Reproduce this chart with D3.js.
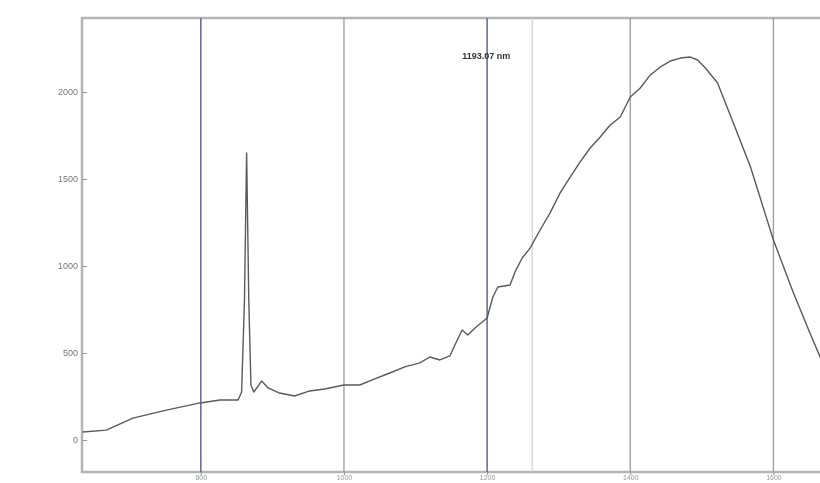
<!DOCTYPE html>
<html>
<head>
<meta charset="utf-8">
<script src="https://cdn.jsdelivr.net/npm/d3@7"></script>
<style>
  body { margin: 0; background: #fff; }
  svg { display: block; }
</style>
</head>
<body>
<svg id="chart" width="820" height="483"></svg>
<script>
// spectrum (wavelength nm, counts)
const wavelength = [635, 668, 705, 752, 799, 827, 852, 857, 861, 864, 867, 870, 874, 880, 885, 894,
  910, 931, 952, 973, 1000, 1022, 1043, 1064, 1085, 1106, 1120, 1134, 1148, 1155, 1165, 1173, 1183,
  1200, 1208, 1215, 1232, 1239, 1249, 1260, 1274, 1288, 1302, 1316, 1330, 1344, 1358, 1372, 1386,
  1400, 1414, 1428, 1442, 1456, 1470, 1484, 1494, 1505, 1522, 1544, 1568, 1600, 1628, 1651, 1673];
const counts = [46, 57, 126, 172, 213, 230, 230, 276, 805, 1649, 805, 316, 276, 310, 339, 299,
  270, 253, 282, 293, 316, 316, 351, 385, 420, 443, 477, 460, 483, 546, 632, 603, 644,
  701, 822, 879, 891, 966, 1046, 1103, 1207, 1305, 1420, 1511, 1598, 1678, 1741, 1810, 1856,
  1971, 2023, 2098, 2144, 2178, 2195, 2201, 2184, 2138, 2052, 1822, 1569, 1149, 845, 615, 402];

const yTicks = [0, 500, 1000, 1500, 2000];
const xTicks = [800, 1000, 1200, 1400, 1600];
const darkLines = [800, 1200];      // the bluish grid lines
const cursorNm = 1193.07;
const cursorLabel = "1193.07 nm";
const faintLines = [1263];

const svg = d3.select("#chart");
const mLeft = 82, mTop = 18, mBottom = 472, mRight = 845;

const x = d3.scaleLinear().domain([634, 1700]).range([mLeft, mRight]);
const y = d3.scaleLinear().domain([0, 2000]).range([440, 92]);

// a little blur, the original is a soft scan
const defs = svg.append("defs");
defs.append("filter").attr("id", "soft")
  .append("feGaussianBlur").attr("stdDeviation", 0.6);

const g = svg.append("g").attr("filter", "url(#soft)");

// frame
g.append("rect")
  .attr("x", mLeft).attr("y", mTop)
  .attr("width", mRight - mLeft).attr("height", mBottom - mTop)
  .style("fill", "none")
  .style("stroke", "#b4b4b4")
  .style("stroke-width", 2.5);

// vertical grid lines
g.selectAll("line.grid")
  .data(xTicks)
  .enter()
  .append("line")
  .attr("class", "grid")
  .attr("x1", d => x(d)).attr("x2", d => x(d))
  .attr("y1", mTop).attr("y2", mBottom)
  .style("stroke", d => darkLines.includes(d) ? "#6c7093" : "#9a9aa2")
  .style("stroke-width", d => darkLines.includes(d) ? 1.6 : 1.3);

g.selectAll("line.faint")
  .data(faintLines)
  .enter()
  .append("line")
  .attr("x1", d => x(d)).attr("x2", d => x(d))
  .attr("y1", mTop).attr("y2", mBottom)
  .style("stroke", "#d2d2d6")
  .style("stroke-width", 1.2);

// y axis labels + little ticks
const yAxis = d3.axisLeft(y).tickValues(yTicks).tickSize(5).tickPadding(4).tickFormat(d3.format("d"));
g.append("g")
  .attr("transform", "translate(" + (mLeft + 5) + ",0)")
  .call(yAxis)
  .call(a => a.select(".domain").remove())
  .call(a => a.selectAll("line").style("stroke", "#999"))
  .call(a => a.selectAll("text")
    .style("font-family", "Arial, 'Liberation Sans', sans-serif")
    .style("font-size", "9px")
    .style("fill", "#777"));

// x axis labels, squeezed under the frame at the very bottom of the picture
const xAxis = d3.axisBottom(x).tickValues(xTicks).tickSize(3).tickPadding(1).tickFormat(d3.format("d"));
g.append("g")
  .attr("transform", "translate(0," + mBottom + ")")
  .call(xAxis)
  .call(a => a.select(".domain").remove())
  .call(a => a.selectAll("line").style("stroke", "#999"))
  .call(a => a.selectAll("text")
    .attr("dy", "0.6em")
    .style("font-family", "Arial, 'Liberation Sans', sans-serif")
    .style("font-size", "7px")
    .style("fill", "#999"));

// the spectrum
const pts = wavelength.map((w, i) => [w, counts[i]]);
const line = d3.line()
  .x(d => x(d[0]))
  .y(d => y(d[1]));

g.append("path")
  .datum(pts)
  .attr("d", line)
  .style("fill", "none")
  .style("stroke", "#5a5a5a")
  .style("stroke-width", 1.4)
  .style("stroke-linejoin", "round");

// cursor readout
g.append("text")
  .attr("x", x(cursorNm) + 4)
  .attr("y", 59)
  .attr("text-anchor", "middle")
  .style("font-family", "Arial, 'Liberation Sans', sans-serif")
  .style("font-size", "9px")
  .style("font-weight", "bold")
  .style("fill", "#333")
  .text(cursorLabel);
</script>
</body>
</html>
